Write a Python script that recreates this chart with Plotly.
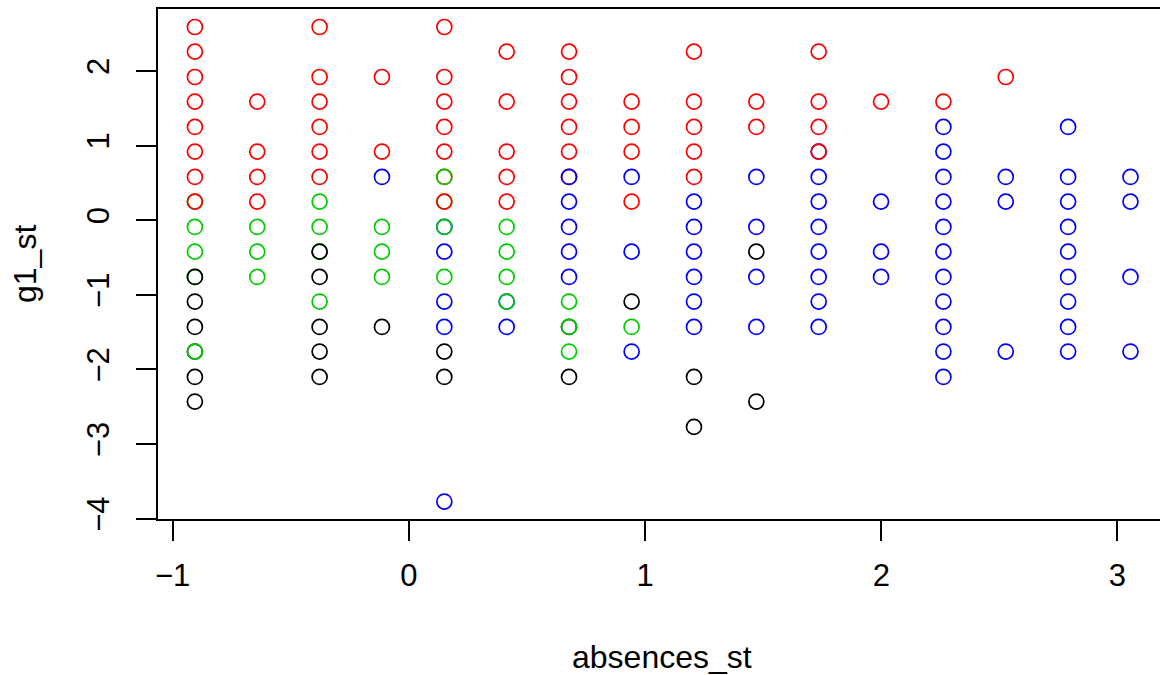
import plotly.graph_objects as go

# standardized absences levels (one per column of points)
absences_levels = [-0.906, -0.642, -0.378, -0.114, 0.150, 0.414, 0.678, 0.943,
                   1.207, 1.471, 1.735, 1.999, 2.263, 2.527, 2.791, 3.055]

# g1_st values found in each absences column (drawing order: later on top)
g1_by_column = [
    [2.59, 2.26, 1.92, 1.59, 1.25, 0.92, 0.58, 0.25, 0.25, -0.09, -0.42, -0.76, -0.76, -1.09, -1.43, -1.76, -1.76, -2.10, -2.43],
    [1.59, 0.92, 0.58, 0.25, -0.09, -0.42, -0.76],
    [2.59, 1.92, 1.59, 1.25, 0.92, 0.58, 0.25, -0.09, -0.42, -0.42, -0.76, -1.09, -1.43, -1.76, -2.10],
    [1.92, 0.92, 0.58, -0.09, -0.42, -0.76, -1.43],
    [2.59, 1.92, 1.59, 1.25, 0.92, 0.58, 0.58, 0.25, 0.25, -0.09, -0.09, -0.42, -0.76, -1.09, -1.43, -1.76, -2.10, -3.77],
    [2.26, 1.59, 0.92, 0.58, 0.25, -0.09, -0.42, -0.76, -1.09, -1.09, -1.43],
    [2.26, 1.92, 1.59, 1.25, 0.92, 0.58, 0.58, 0.25, -0.09, -0.42, -0.76, -1.09, -1.43, -1.43, -1.76, -2.10],
    [1.59, 1.25, 0.92, 0.58, 0.25, -0.42, -1.09, -1.43, -1.76],
    [2.26, 1.59, 1.25, 0.92, 0.58, 0.25, -0.09, -0.42, -0.76, -1.09, -1.43, -2.10, -2.77],
    [1.59, 1.25, 0.58, -0.09, -0.42, -0.76, -1.43, -2.43],
    [2.26, 1.59, 1.25, 0.92, 0.92, 0.58, 0.25, -0.09, -0.42, -0.76, -1.09, -1.43],
    [1.59, 0.25, -0.42, -0.76],
    [1.59, 1.25, 0.92, 0.58, 0.25, -0.09, -0.42, -0.76, -1.09, -1.43, -1.76, -2.10],
    [1.92, 0.58, 0.25, -1.76],
    [1.25, 0.58, 0.25, -0.09, -0.42, -0.76, -1.09, -1.43, -1.76],
    [0.58, 0.25, -0.76, -1.76],
]

# cluster id of each point (1 black, 2 red, 3 green3, 4 blue)
cluster_by_column = [
    [2, 2, 2, 2, 2, 2, 2, 3, 2, 3, 3, 3, 1, 1, 1, 1, 3, 1, 1],
    [2, 2, 2, 2, 3, 3, 3],
    [2, 2, 2, 2, 2, 2, 3, 3, 3, 1, 1, 3, 1, 1, 1],
    [2, 2, 4, 3, 3, 3, 1],
    [2, 2, 2, 2, 2, 2, 3, 3, 2, 4, 3, 4, 3, 4, 4, 1, 1, 4],
    [2, 2, 2, 2, 2, 3, 3, 3, 4, 3, 4],
    [2, 2, 2, 2, 2, 2, 4, 4, 4, 4, 4, 3, 1, 3, 3, 1],
    [2, 2, 2, 4, 2, 4, 1, 3, 4],
    [2, 2, 2, 2, 2, 4, 4, 4, 4, 4, 4, 1, 1],
    [2, 2, 4, 4, 1, 4, 4, 1],
    [2, 2, 2, 4, 2, 4, 4, 4, 4, 4, 4, 4],
    [2, 4, 4, 4],
    [2, 4, 4, 4, 4, 4, 4, 4, 4, 4, 4, 4],
    [2, 4, 4, 4],
    [4, 4, 4, 4, 4, 4, 4, 4, 4],
    [4, 4, 4, 4],
]

palette = {1: "#000000", 2: "#FF0000", 3: "#00CD00", 4: "#0000FF"}

x_ticks = [-1, 0, 1, 2, 3]
y_ticks = [-4, -3, -2, -1, 0, 1, 2]

xs, ys, cs = [], [], []
for xv, ycol, ccol in zip(absences_levels, g1_by_column, cluster_by_column):
    for yv, cv in zip(ycol, ccol):
        xs.append(xv)
        ys.append(yv)
        cs.append(palette[cv])

fig = go.Figure()
fig.add_trace(go.Scatter(
    x=xs, y=ys, mode="markers",
    marker=dict(symbol="circle-open", size=15, color=cs, line=dict(width=1.7)),
    showlegend=False, hoverinfo="x+y",
))

FONT = "Liberation Sans, Arial, Helvetica, sans-serif"
W, H = 1160, 675
L, T, B, R = 158, 9, 156, 0


def fmt(v):
    return ("\u2212" + str(-v)) if v < 0 else str(v)


fig.update_layout(
    width=W, height=H,
    margin=dict(l=L, r=R, t=T, b=B, pad=0),
    paper_bgcolor="white", plot_bgcolor="white",
    font=dict(family=FONT, size=31, color="black"),
    xaxis=dict(
        range=[-1.0622, 3.180], tickvals=x_ticks, ticktext=[fmt(v) for v in x_ticks],
        showgrid=False, zeroline=False, showline=True, linecolor="black", linewidth=1.5,
        mirror=True, ticks="outside", ticklen=20, tickwidth=1.5, tickcolor="black",
        ticklabelstandoff=8,
        tickfont=dict(family=FONT, size=31, color="black"),
    ),
    yaxis=dict(
        range=[-4.004, 2.831], tickvals=y_ticks, ticktext=[fmt(v) for v in y_ticks],
        showgrid=False, zeroline=False, showline=True, linecolor="black", linewidth=1.5,
        mirror=False, ticks="outside", ticklen=20, tickwidth=1.5, tickcolor="black",
        ticklabelstandoff=15,
        tickangle=-90, tickfont=dict(family=FONT, size=31, color="black"),
    ),
    annotations=[
        dict(text="absences_st", xref="paper", yref="paper", x=(662 - L) / (W - L - R),
             y=(H - B - 657) / (H - T - B), xanchor="center", yanchor="middle",
             showarrow=False, font=dict(family=FONT, size=32, color="black")),
        dict(text="g1_st", xref="paper", yref="paper", x=(25 - L) / (W - L - R),
             y=0.5, xanchor="center", yanchor="middle", textangle=-90,
             showarrow=False, font=dict(family=FONT, size=32, color="black")),
    ],
)

fig.write_html("out.html", config={"displayModeBar": False},
               post_script="document.body.style.margin='0';document.body.style.overflow='hidden';")
